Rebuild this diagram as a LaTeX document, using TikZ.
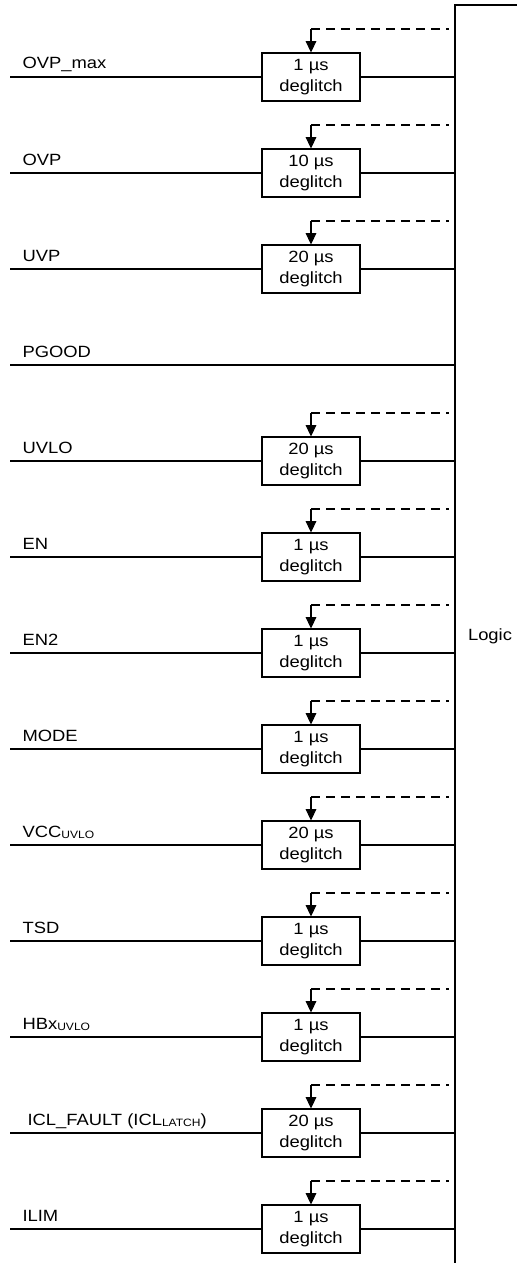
\documentclass[tikz,border=0pt]{standalone}
\usepackage{fontspec}
\setmainfont[FakeStretch=1.13]{Liberation Sans}
\usepackage{tikz}
\usetikzlibrary{arrows.meta}

\newcommand{\lowtxt}[1]{\raisebox{-1.2pt}{\fontsize{8}{8}\selectfont #1}}

\begin{document}
\begin{tikzpicture}[x=0.75pt,y=-0.75pt,line width=0.8pt,
   font=\fontsize{12.2}{15.5}\selectfont,
   sig/.style={anchor=base west,inner sep=0pt},
   dg/.style={draw,align=center,inner sep=0pt,minimum width=73.5pt,minimum height=36pt,
      execute at begin node=\rule{0pt}{12.8pt}}]

\tikzstyle {ctl} = [dash pattern=on 6.75pt off 4.5pt];
\tikzstyle {tip} = [-{Triangle[length=8.5pt,width=8pt]}];

\useasboundingbox (0,0) rectangle (517,1263);

% logic block
\coordinate (logic-t) at (455,5);
\coordinate (logic-b) at (455,1263);
\coordinate (logic-r) at (517,5);
\node[text centered] (logic) at (490,636){Logic};
\draw (logic-r) -- (logic-t) -- (logic-b);

\node[sig] (ovpmax) at (22,69){OVP\_max};
\coordinate (ovpmax-in) at (10,77);
\node[dg] (ovpmax-dg) at (311,77){1 µs\\deglitch};
\coordinate (ovpmax-ctl) at (449,29);

\node[sig] (ovp) at (22,165){OVP};
\coordinate (ovp-in) at (10,173);
\node[dg] (ovp-dg) at (311,173){10 µs\\deglitch};
\coordinate (ovp-ctl) at (449,125);

\node[sig] (uvp) at (22,261){UVP};
\coordinate (uvp-in) at (10,269);
\node[dg] (uvp-dg) at (311,269){20 µs\\deglitch};
\coordinate (uvp-ctl) at (449,221);

\node[sig] (pgood) at (22,357){PGOOD};
\coordinate (pgood-in) at (10,365);

\node[sig] (uvlo) at (22,453){UVLO};
\coordinate (uvlo-in) at (10,461);
\node[dg] (uvlo-dg) at (311,461){20 µs\\deglitch};
\coordinate (uvlo-ctl) at (449,413);

\node[sig] (en) at (22,549){EN};
\coordinate (en-in) at (10,557);
\node[dg] (en-dg) at (311,557){1 µs\\deglitch};
\coordinate (en-ctl) at (449,509);

\node[sig] (en2) at (22,645){EN2};
\coordinate (en2-in) at (10,653);
\node[dg] (en2-dg) at (311,653){1 µs\\deglitch};
\coordinate (en2-ctl) at (449,605);

\node[sig] (mode) at (22,741){MODE};
\coordinate (mode-in) at (10,749);
\node[dg] (mode-dg) at (311,749){1 µs\\deglitch};
\coordinate (mode-ctl) at (449,701);

\node[sig] (vcc) at (22,837){VCC\lowtxt{UVLO}};
\coordinate (vcc-in) at (10,845);
\node[dg] (vcc-dg) at (311,845){20 µs\\deglitch};
\coordinate (vcc-ctl) at (449,797);

\node[sig] (tsd) at (22,933){TSD};
\coordinate (tsd-in) at (10,941);
\node[dg] (tsd-dg) at (311,941){1 µs\\deglitch};
\coordinate (tsd-ctl) at (449,893);

\node[sig] (hbx) at (22,1029){HBx\lowtxt{UVLO}};
\coordinate (hbx-in) at (10,1037);
\node[dg] (hbx-dg) at (311,1037){1 µs\\deglitch};
\coordinate (hbx-ctl) at (449,989);

\node[sig] (icl) at (27,1125){ICL\_FAULT (ICL\lowtxt{LATCH})};
\coordinate (icl-in) at (10,1133);
\node[dg] (icl-dg) at (311,1133){20 µs\\deglitch};
\coordinate (icl-ctl) at (449,1085);

\node[sig] (ilim) at (22,1221){ILIM};
\coordinate (ilim-in) at (10,1229);
\node[dg] (ilim-dg) at (311,1229){1 µs\\deglitch};
\coordinate (ilim-ctl) at (449,1181);

%\draw [ctl] (ovpmax-ctl) -- (ovpmax-dg);

\path (pgood-in) edge [] (pgood-in -| logic-t);

\path (ovpmax-in) edge [] (ovpmax-dg);
\path (ovpmax-dg) edge [] (ovpmax-dg -| logic-t);
\path (ovpmax-dg |- ovpmax-ctl) edge [ctl] (ovpmax-ctl);
\path (ovpmax-dg |- ovpmax-ctl) edge [tip] (ovpmax-dg);

\path (ovp-in) edge [] (ovp-dg);
\path (ovp-dg) edge [] (ovp-dg -| logic-t);
\path (ovp-dg |- ovp-ctl) edge [ctl] (ovp-ctl);
\path (ovp-dg |- ovp-ctl) edge [tip] (ovp-dg);

\path (uvp-in) edge [] (uvp-dg);
\path (uvp-dg) edge [] (uvp-dg -| logic-t);
\path (uvp-dg |- uvp-ctl) edge [ctl] (uvp-ctl);
\path (uvp-dg |- uvp-ctl) edge [tip] (uvp-dg);

\path (uvlo-in) edge [] (uvlo-dg);
\path (uvlo-dg) edge [] (uvlo-dg -| logic-t);
\path (uvlo-dg |- uvlo-ctl) edge [ctl] (uvlo-ctl);
\path (uvlo-dg |- uvlo-ctl) edge [tip] (uvlo-dg);

\path (en-in) edge [] (en-dg);
\path (en-dg) edge [] (en-dg -| logic-t);
\path (en-dg |- en-ctl) edge [ctl] (en-ctl);
\path (en-dg |- en-ctl) edge [tip] (en-dg);

\path (en2-in) edge [] (en2-dg);
\path (en2-dg) edge [] (en2-dg -| logic-t);
\path (en2-dg |- en2-ctl) edge [ctl] (en2-ctl);
\path (en2-dg |- en2-ctl) edge [tip] (en2-dg);

\path (mode-in) edge [] (mode-dg);
\path (mode-dg) edge [] (mode-dg -| logic-t);
\path (mode-dg |- mode-ctl) edge [ctl] (mode-ctl);
\path (mode-dg |- mode-ctl) edge [tip] (mode-dg);

\path (vcc-in) edge [] (vcc-dg);
\path (vcc-dg) edge [] (vcc-dg -| logic-t);
\path (vcc-dg |- vcc-ctl) edge [ctl] (vcc-ctl);
\path (vcc-dg |- vcc-ctl) edge [tip] (vcc-dg);

\path (tsd-in) edge [] (tsd-dg);
\path (tsd-dg) edge [] (tsd-dg -| logic-t);
\path (tsd-dg |- tsd-ctl) edge [ctl] (tsd-ctl);
\path (tsd-dg |- tsd-ctl) edge [tip] (tsd-dg);

\path (hbx-in) edge [] (hbx-dg);
\path (hbx-dg) edge [] (hbx-dg -| logic-t);
\path (hbx-dg |- hbx-ctl) edge [ctl] (hbx-ctl);
\path (hbx-dg |- hbx-ctl) edge [tip] (hbx-dg);

\path (icl-in) edge [] (icl-dg);
\path (icl-dg) edge [] (icl-dg -| logic-t);
\path (icl-dg |- icl-ctl) edge [ctl] (icl-ctl);
\path (icl-dg |- icl-ctl) edge [tip] (icl-dg);

\path (ilim-in) edge [] (ilim-dg);
\path (ilim-dg) edge [] (ilim-dg -| logic-t);
\path (ilim-dg |- ilim-ctl) edge [ctl] (ilim-ctl);
\path (ilim-dg |- ilim-ctl) edge [tip] (ilim-dg);

\end{tikzpicture}
\end{document}
